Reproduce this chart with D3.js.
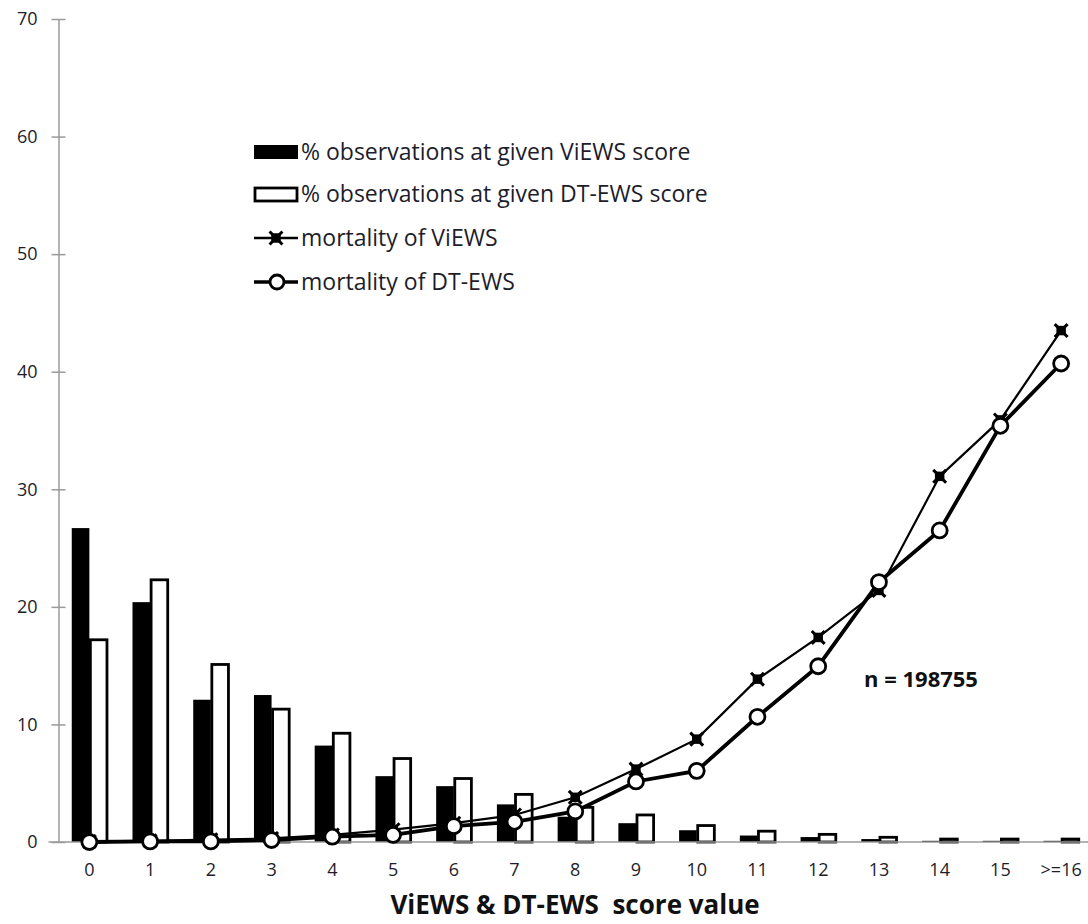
<!DOCTYPE html>
<meta charset="utf-8">
<head>
    <script src="https://d3js.org/d3.v7.min.js"></script>
</head>
<style>
    body { margin: 0; background: white; }
    text { font-family: "Open Sans", Lato, sans-serif; fill: #1d1d2b; }
    .tick-label { font-size: 18px; }
    .legend-label { font-size: 23px; }
    .axis-title { font-size: 26px; font-weight: bold; fill: #111; white-space: pre; }
    .note { font-size: 22px; font-weight: bold; fill: #111; }
</style>
<body>
<div id="my_dataviz"></div>
<script>

    // categories (score values)
    var scores = ["0","1","2","3","4","5","6","7","8","9","10","11","12","13","14","15",">=16"];

    // % observations at each score
    var obsViEWS = [26.7, 20.4, 12.1, 12.5, 8.2, 5.6, 4.75, 3.2, 2.15, 1.6, 1.0, 0.55, 0.42, 0.25, 0.1, 0.1, 0.1];
    var obsDTEWS = [17.2, 22.3, 15.1, 11.3, 9.25, 7.1, 5.4, 4.05, 2.95, 2.3, 1.4, 0.92, 0.65, 0.4, 0.25, 0.25, 0.25];

    // mortality (%) at each score
    var mortViEWS = [0.05, 0.1, 0.2, 0.3, 0.6, 1.05, 1.6, 2.3, 3.8, 6.2, 8.75, 13.85, 17.4, 21.4, 31.1, 35.9, 43.5];
    var mortDTEWS = [0, 0.05, 0.05, 0.17, 0.45, 0.6, 1.35, 1.72, 2.6, 5.15, 6.05, 10.65, 14.95, 22.1, 26.5, 35.4, 40.7];

    var yTicks = [0, 10, 20, 30, 40, 50, 60, 70];

    var legendItems = [
        {label: "% observations at given ViEWS score", kind: "barBlack"},
        {label: "% observations at given DT-EWS score", kind: "barWhite"},
        {label: " mortality of ViEWS", kind: "lineStar"},
        {label: " mortality of DT-EWS", kind: "lineCircle"}
    ];

    var sampleNote = "n = 198755";
    var xTitle = "ViEWS & DT-EWS  score value";

    // dimensions
    var margin = {top: 19, right: -3, bottom: 82, left: 58.5},
        width = 1088 - margin.left - margin.right,
        height = 924 - margin.top - margin.bottom;

    var svg = d3.select("#my_dataviz")
        .append("svg")
        .attr("width", 1088)
        .attr("height", 924)
        .style("display", "block")
        .append("g")
        .attr("transform", "translate(" + margin.left + "," + margin.top + ")");

    // scales
    var x = d3.scaleBand()
        .domain(scores)
        .range([0, width])
        .padding(0);

    var y = d3.scaleLinear()
        .domain([0, 70])
        .range([height, 0]);

    var barW = x.bandwidth() * 0.29;
    var cx = function(s) { return x(s) + x.bandwidth() / 2 + 0.5; };

    // Y axis (ticks cross the line)
    var yAxis = svg.append("g")
        .call(d3.axisLeft(y).tickValues(yTicks).tickSize(0).tickPadding(21));
    yAxis.select(".domain").attr("stroke", "#9a9a9a").attr("stroke-width", 1.5);
    yAxis.selectAll(".tick line").remove();
    yAxis.selectAll(".tick").append("line")
        .attr("x1", -7).attr("x2", 7)
        .attr("stroke", "#9a9a9a").attr("stroke-width", 1.5);
    yAxis.selectAll(".tick text").attr("class", "tick-label").attr("fill", null).attr("font-size", null).attr("font-family", null);

    // X axis
    var xAxis = svg.append("g")
        .attr("transform", "translate(0," + height + ")")
        .call(d3.axisBottom(x).tickSize(0).tickPadding(21));
    xAxis.select(".domain").remove();
    xAxis.selectAll(".tick text").attr("class", "tick-label").attr("fill", null).attr("font-size", null).attr("font-family", null)
        .attr("dx", "0.5");

    // bars
    svg.append("g")
        .selectAll("rect")
        .data(scores)
        .enter()
        .append("rect")
        .attr("x", function(d) { return cx(d) - barW; })
        .attr("width", barW)
        .attr("y", function(d, i) { return y(obsViEWS[i]); })
        .attr("height", function(d, i) { return height - y(obsViEWS[i]); })
        .attr("fill", "black");

    svg.append("g")
        .selectAll("rect")
        .data(scores)
        .enter()
        .append("rect")
        .attr("x", function(d) { return cx(d) + 1; })
        .attr("width", barW - 1)
        .attr("y", function(d, i) { return y(obsDTEWS[i]); })
        .attr("height", function(d, i) { return height - y(obsDTEWS[i]); })
        .attr("fill", "white")
        .attr("stroke", "black")
        .attr("stroke-width", 2.8);

    // x axis baseline on top of bar bottoms
    svg.append("line")
        .attr("x1", -10).attr("x2", width)
        .attr("y1", height).attr("y2", height)
        .attr("stroke", "#9a9a9a").attr("stroke-width", 1.5);

    // star marker (filled square + x)
    var drawStar = function(sel) {
        sel.append("path")
            .attr("d", d3.symbol().type(d3.symbolSquare).size(90))
            .attr("fill", "black");
        sel.append("path")
            .attr("d", d3.symbol().type(d3.symbolTimes).size(110))
            .attr("fill", "none").attr("stroke", "black").attr("stroke-width", 3);
    };

    // mortality of ViEWS
    var lineV = d3.line()
        .x(function(d, i) { return cx(scores[i]); })
        .y(function(d) { return y(d); });

    svg.append("path")
        .datum(mortViEWS)
        .attr("fill", "none")
        .attr("stroke", "black")
        .attr("stroke-width", 2.2)
        .attr("d", lineV);

    svg.append("g")
        .selectAll("g")
        .data(mortViEWS)
        .enter()
        .append("g")
        .attr("transform", function(d, i) { return "translate(" + cx(scores[i]) + "," + y(d) + ")"; })
        .call(drawStar);

    // mortality of DT-EWS
    svg.append("path")
        .datum(mortDTEWS)
        .attr("fill", "none")
        .attr("stroke", "black")
        .attr("stroke-width", 3.8)
        .attr("d", lineV);

    svg.append("g")
        .selectAll("circle")
        .data(mortDTEWS)
        .enter()
        .append("circle")
        .attr("cx", function(d, i) { return cx(scores[i]); })
        .attr("cy", function(d) { return y(d); })
        .attr("r", 7.5)
        .attr("fill", "white")
        .attr("stroke", "black")
        .attr("stroke-width", 2.8);

    // legend
    var legend = svg.append("g")
        .attr("transform", "translate(" + (254 - margin.left) + "," + (152 - margin.top) + ")");

    var item = legend.selectAll("g")
        .data(legendItems)
        .enter()
        .append("g")
        .attr("transform", function(d, i) { return "translate(0," + [0, 42, 86, 130][i] + ")"; });

    item.each(function(d) {
        var g = d3.select(this);
        if (d.kind === "barBlack") {
            g.append("rect").attr("x", 0).attr("y", -7).attr("width", 44).attr("height", 14).attr("fill", "black");
        } else if (d.kind === "barWhite") {
            g.append("rect").attr("x", 1).attr("y", -6).attr("width", 42).attr("height", 13)
                .attr("fill", "white").attr("stroke", "black").attr("stroke-width", 2.8);
        } else if (d.kind === "lineStar") {
            g.append("line").attr("x1", 0).attr("x2", 44).attr("stroke", "black").attr("stroke-width", 2.5);
            g.append("g").attr("transform", "translate(22,0)").call(drawStar);
        } else {
            g.append("line").attr("x1", 0).attr("x2", 44).attr("stroke", "black").attr("stroke-width", 3.5);
            g.append("circle").attr("cx", 23).attr("r", 7).attr("fill", "white")
                .attr("stroke", "black").attr("stroke-width", 2.8);
        }
        g.append("text")
            .attr("class", "legend-label")
            .attr("x", 47)
            .attr("dy", "0.35em")
            .text(d.label);
    });

    // sample size note
    svg.append("text")
        .attr("class", "note")
        .attr("x", 864 - margin.left)
        .attr("y", 687 - margin.top)
        .text(sampleNote);

    // x axis title
    svg.append("text")
        .attr("class", "axis-title")
        .attr("text-anchor", "middle")
        .attr("x", 575 - margin.left)
        .attr("y", 914 - margin.top)
        .text(xTitle);

</script>
</body>
